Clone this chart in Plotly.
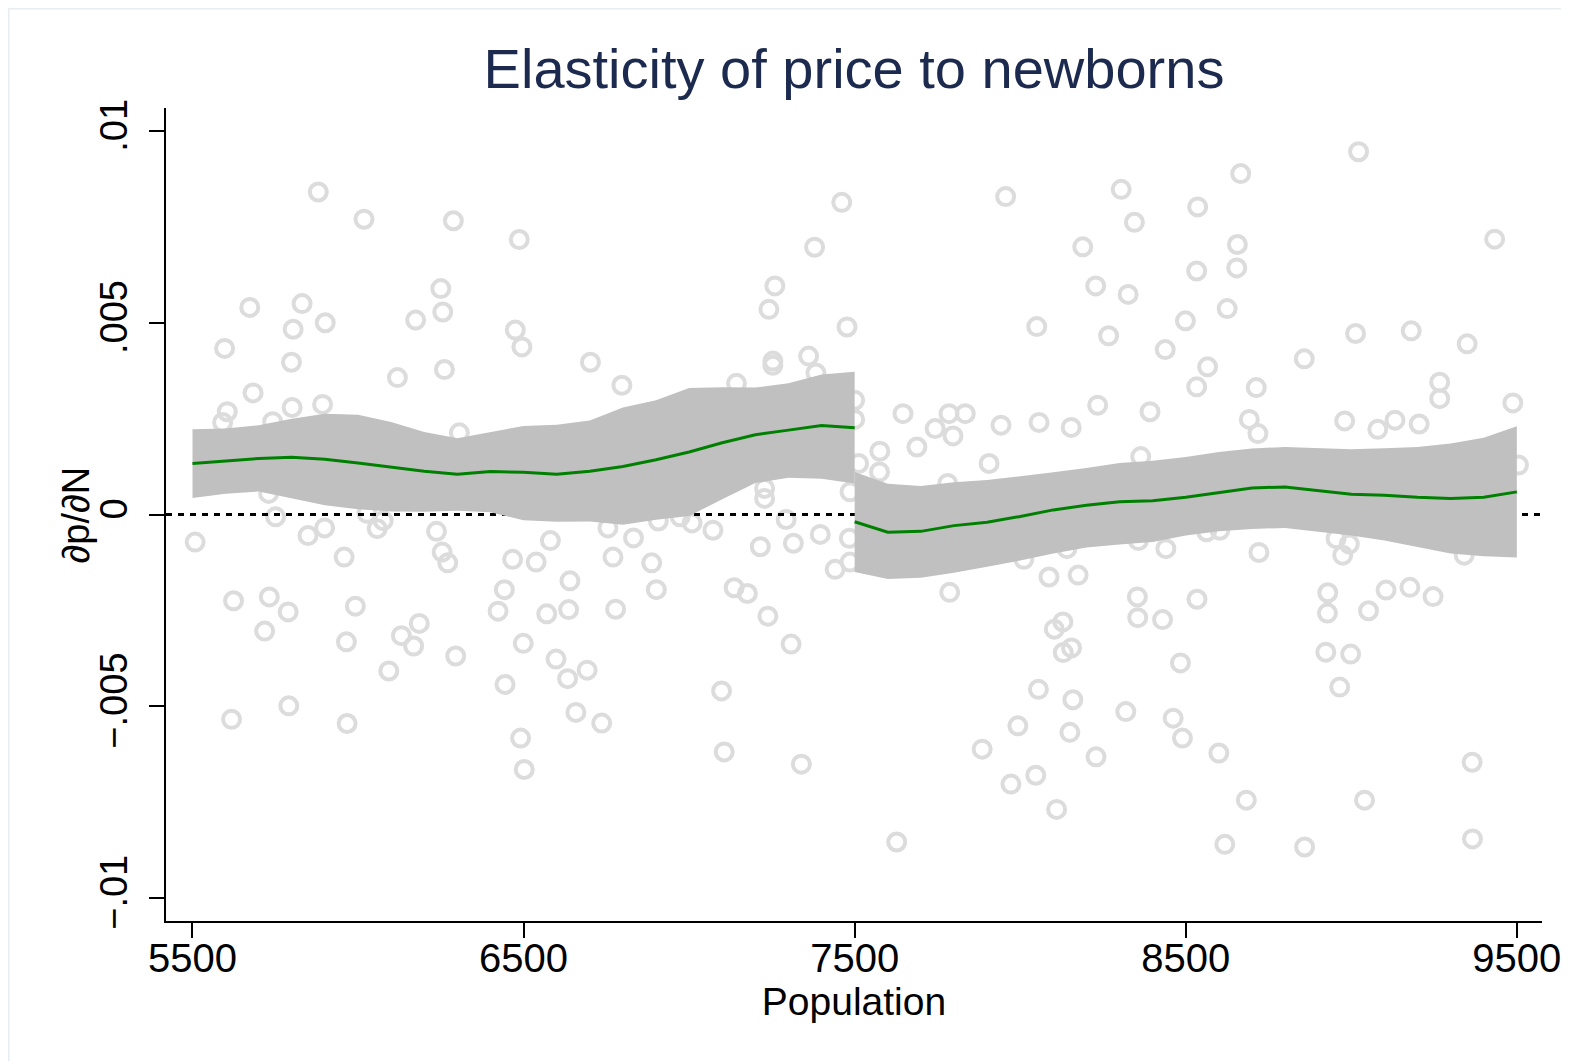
import plotly.graph_objects as go

# ---------------- data ----------------
pop = [5880, 6018, 6288, 6487, 6250, 5673, 5831, 6256, 6174, 5804,
       5901, 6475, 6495, 5597, 5799, 6702, 6119, 6261, 6797, 5683,
       5605, 5591, 5801, 5893, 5742, 6306, 5730, 5751, 5508, 5849,
       5899, 6058, 6076, 6027, 6237, 6581, 6755, 6832, 6907,
       5958, 6254, 6271, 6467, 6538, 6770, 6887, 6901, 5624, 5732,
       5789, 5718, 5992, 5965, 6442, 6423, 6640, 6636, 6570, 6778,
       6185, 6131, 6168, 6295, 6093, 6499, 6598, 6692, 6633, 6444,
       5791, 5618, 5967, 6658, 6736, 6491, 6502,
       7461, 7956, 8305, 8345, 7379, 8189, 7259, 7241, 8228, 8326,
       7477, 8050, 8267, 7253, 7253, 7361, 7383, 7143, 7500, 7500,
       7646, 7785, 7834, 7743, 7797, 7942, 8057, 8154, 8234, 8392,
       7576, 7575, 7688, 7906, 8364, 7228, 7228, 7512, 7486, 7781,
       6973, 7009, 7072, 7293, 7396, 7215, 7315, 7484, 8357,
       7441, 7486, 7136, 7176, 7238, 7308, 7098, 7106, 7339, 7627,
       7787, 8011, 8141, 8087, 8175, 8354, 8355, 8129, 8103, 8155,
       8130, 8055, 8159, 8319, 7993, 8150, 7885, 8229, 8047, 7972, 8110,
       9022, 8666, 8536, 8656, 8654, 8533, 9433, 8625, 8499, 8438,
       9013, 9181, 9350, 8858, 8566, 8533, 8713, 9267, 9267, 9488,
       8692, 8718, 8980, 9080, 9132, 9205, 9505, 8563, 8603, 8440,
       8721, 8954, 8994, 8974, 9341,
       8430, 8534, 8929, 8928, 9052, 9105, 9177, 9247, 8484, 8923,
       8998, 8965, 8462, 8490, 8600, 9365, 8683, 9040, 8618, 8859, 9366]

elast = [0.00841, 0.00770, 0.00766, 0.00717, 0.00589, 0.00540, 0.00550, 0.00528, 0.00507, 0.00483,
         0.00500, 0.00481, 0.00437, 0.00433, 0.00397, 0.00397, 0.00357, 0.00378, 0.00337, 0.00317,
         0.00268, 0.00240, 0.00279, 0.00287, 0.00242, 0.00213, 0.00055, -0.00006, -0.00072, -0.00055,
         -0.00035, -0.00037, -0.00016, 0.00003, -0.00044, -0.00068, -0.00035, -0.00061, -0.00017,
         -0.00111, -0.00098, -0.00126, -0.00117, -0.00124, -0.00111, -0.00126, -0.00196, -0.00225, -0.00215,
         -0.00254, -0.00304, -0.00239, -0.00332, -0.00196, -0.00252, -0.00173, -0.00248, -0.00259, -0.00247,
         -0.00284, -0.00316, -0.00343, -0.00369, -0.00408, -0.00336, -0.00377, -0.00406, -0.00428, -0.00443,
         -0.00499, -0.00534, -0.00545, -0.00516, -0.00544, -0.00583, -0.00665,
         0.00814, 0.00829, 0.00848, 0.00762, 0.00697, 0.00698, 0.00596, 0.00535, 0.00596, 0.00574,
         0.00489, 0.00490, 0.00466, 0.00400, 0.00389, 0.00413, 0.00369, 0.00342, 0.00298, 0.00248,
         0.00263, 0.00263, 0.00263, 0.00224, 0.00205, 0.00233, 0.00240, 0.00227, 0.00285, 0.00268,
         0.00165, 0.00111, 0.00176, 0.00133, 0.00151, 0.00068, 0.00042, 0.00133, 0.00059, 0.00081,
         -0.00006, -0.00022, -0.00041, -0.00013, -0.00052, -0.00084, -0.00075, -0.00062, -0.00068,
         -0.00143, -0.00124, -0.00191, -0.00206, -0.00265, -0.00338, -0.00460, -0.00619, -0.00651, -0.00854,
         -0.00203, -0.00117, -0.00089, -0.00163, -0.00158, -0.00215, -0.00269, -0.00280, -0.00299, -0.00348,
         -0.00360, -0.00456, -0.00483, -0.00514, -0.00551, -0.00568, -0.00612, -0.00632, -0.00680, -0.00703, -0.00769,
         0.00946, 0.00889, 0.00802, 0.00704, 0.00643, 0.00635, 0.00718, 0.00537, 0.00505, 0.00430,
         0.00472, 0.00479, 0.00445, 0.00406, 0.00385, 0.00333, 0.00331, 0.00345, 0.00302, 0.00291,
         0.00248, 0.00211, 0.00244, 0.00222, 0.00246, 0.00236, 0.00129, -0.00045, -0.00041, -0.00089,
         -0.00099, -0.00063, -0.00077, -0.00106, -0.00106,
         -0.00274, -0.00221, -0.00204, -0.00257, -0.00251, -0.00197, -0.00190, -0.00214, -0.00387, -0.00359,
         -0.00364, -0.00450, -0.00531, -0.00583, -0.00622, -0.00646, -0.00745, -0.00745, -0.00860, -0.00867, -0.00846]

# local fit below the threshold
left_x = [5500, 5600, 5700, 5800, 5900, 6000, 6100, 6200, 6300, 6400, 6500,
          6600, 6700, 6800, 6900, 7000, 7100, 7200, 7300, 7400, 7500]
left_fit = [0.00133, 0.00140, 0.00146, 0.00149, 0.00144, 0.00134, 0.00124, 0.00113, 0.00105, 0.00112, 0.00110,
            0.00105, 0.00113, 0.00125, 0.00143, 0.00163, 0.00187, 0.00208, 0.00220, 0.00232, 0.00226]
left_hi = [0.00222, 0.00224, 0.00233, 0.00250, 0.00263, 0.00260, 0.00241, 0.00215, 0.00199, 0.00215, 0.00231,
           0.00234, 0.00245, 0.00279, 0.00298, 0.00330, 0.00332, 0.00331, 0.00342, 0.00365, 0.00372]
left_lo = [0.00043, 0.00054, 0.00060, 0.00042, 0.00024, 0.00014, 0.00008, 0.00007, 0.00010, 0.00006, -0.00015,
           -0.00019, -0.00018, -0.00027, -0.00014, -0.00004, 0.00040, 0.00082, 0.00096, 0.00093, 0.00081]

# local fit above the threshold
right_x = [7500, 7600, 7700, 7800, 7900, 8000, 8100, 8200, 8300, 8400, 8500,
           8600, 8700, 8800, 8900, 9000, 9100, 9200, 9300, 9400, 9500]
right_fit = [-0.00019, -0.00046, -0.00044, -0.00029, -0.00020, -0.00005, 0.00012, 0.00024, 0.00033, 0.00036, 0.00045,
             0.00057, 0.00069, 0.00072, 0.00062, 0.00053, 0.00050, 0.00045, 0.00042, 0.00045, 0.00059]
right_hi = [0.00111, 0.00080, 0.00074, 0.00084, 0.00090, 0.00099, 0.00110, 0.00121, 0.00134, 0.00140, 0.00150,
            0.00163, 0.00172, 0.00176, 0.00173, 0.00170, 0.00173, 0.00176, 0.00185, 0.00200, 0.00230]
right_lo = [-0.00150, -0.00168, -0.00165, -0.00152, -0.00136, -0.00120, -0.00102, -0.00086, -0.00078, -0.00072, -0.00055,
            -0.00044, -0.00038, -0.00035, -0.00045, -0.00055, -0.00068, -0.00085, -0.00102, -0.00109, -0.00112]

x_ticks = [5500, 6500, 7500, 8500, 9500]
y_ticks = [0.01, 0.005, 0, -0.005, -0.01]
y_ticktext = [".01", ".005", "0", "\u2212.005", "\u2212.01"]

X_RANGE = [5420, 9576]
Y_RANGE = [-0.0106, 0.0106]

FONT = "Liberation Sans, Arial, Helvetica, sans-serif"

# layout geometry (figure pixels; the page adds an 8px body margin)
W, H = 1569, 1061
ML, MR, MT, MB = 158, 35, 100, 148
PW, PH = W - ML - MR, H - MT - MB

# ---------------- figure ----------------
fig = go.Figure()

fig.add_trace(go.Scatter(
    x=pop, y=elast, mode="markers",
    marker=dict(symbol="circle-open", size=17, color="#dcdcdc", line=dict(width=4)),
    hoverinfo="skip", showlegend=False))

fig.add_trace(go.Scatter(
    x=X_RANGE, y=[0, 0], mode="lines",
    line=dict(color="black", width=3, dash="6px,6px"),
    hoverinfo="skip", showlegend=False))

for gx, lo, hi in [(left_x, left_lo, left_hi), (right_x, right_lo, right_hi)]:
    fig.add_trace(go.Scatter(
        x=gx + gx[::-1], y=hi + lo[::-1], mode="lines", fill="toself",
        fillcolor="#c0c0c0", line=dict(width=0, color="#c0c0c0"),
        hoverinfo="skip", showlegend=False))

for gx, fit in [(left_x, left_fit), (right_x, right_fit)]:
    fig.add_trace(go.Scatter(
        x=gx, y=fit, mode="lines", line=dict(color="#008000", width=3),
        showlegend=False))

axis_common = dict(
    showline=True, linecolor="black", linewidth=2,
    ticks="outside", ticklen=15, tickwidth=2, tickcolor="black",
    showgrid=False, zeroline=False,
)

fig.update_layout(
    width=W, height=H,
    margin=dict(l=ML, r=MR, t=MT, b=MB),
    paper_bgcolor="white", plot_bgcolor="white",
    font=dict(family=FONT, color="black"),
    title=dict(text="Elasticity of price to newborns",
               font=dict(family=FONT, size=56, color="#1b2a4e"),
               x=0.5, xref="paper", xanchor="center",
               y=1 - 60 / H, yref="container", yanchor="middle"),
    xaxis=dict(range=X_RANGE, tickvals=x_ticks,
               tickfont=dict(family=FONT, size=40, color="black"),
               ticklabelstandoff=-14,
               title=dict(text="Population", font=dict(family=FONT, size=39), standoff=2),
               **axis_common),
    yaxis=dict(range=Y_RANGE, tickvals=y_ticks, ticktext=y_ticktext, tickangle=-90,
               tickfont=dict(family=FONT, size=38, color="black"),
               ticklabelstandoff=7,
               **axis_common),
    annotations=[dict(text="\u2202p/\u2202N", textangle=-90, showarrow=False,
                      xref="paper", yref="paper", x=(67 - ML) / PW, y=0.5,
                      xanchor="center", yanchor="middle",
                      font=dict(family=FONT, size=38, color="black"))],
    shapes=[dict(type="rect", xref="paper", yref="paper",
                 x0=(0.5 - ML) / PW, x1=1.2, y0=-0.3, y1=(MT + PH - 0.5) / PH,
                 line=dict(color="#e8edf2", width=2), fillcolor="rgba(0,0,0,0)", layer="below")],
)

fig.write_html("out.html")
